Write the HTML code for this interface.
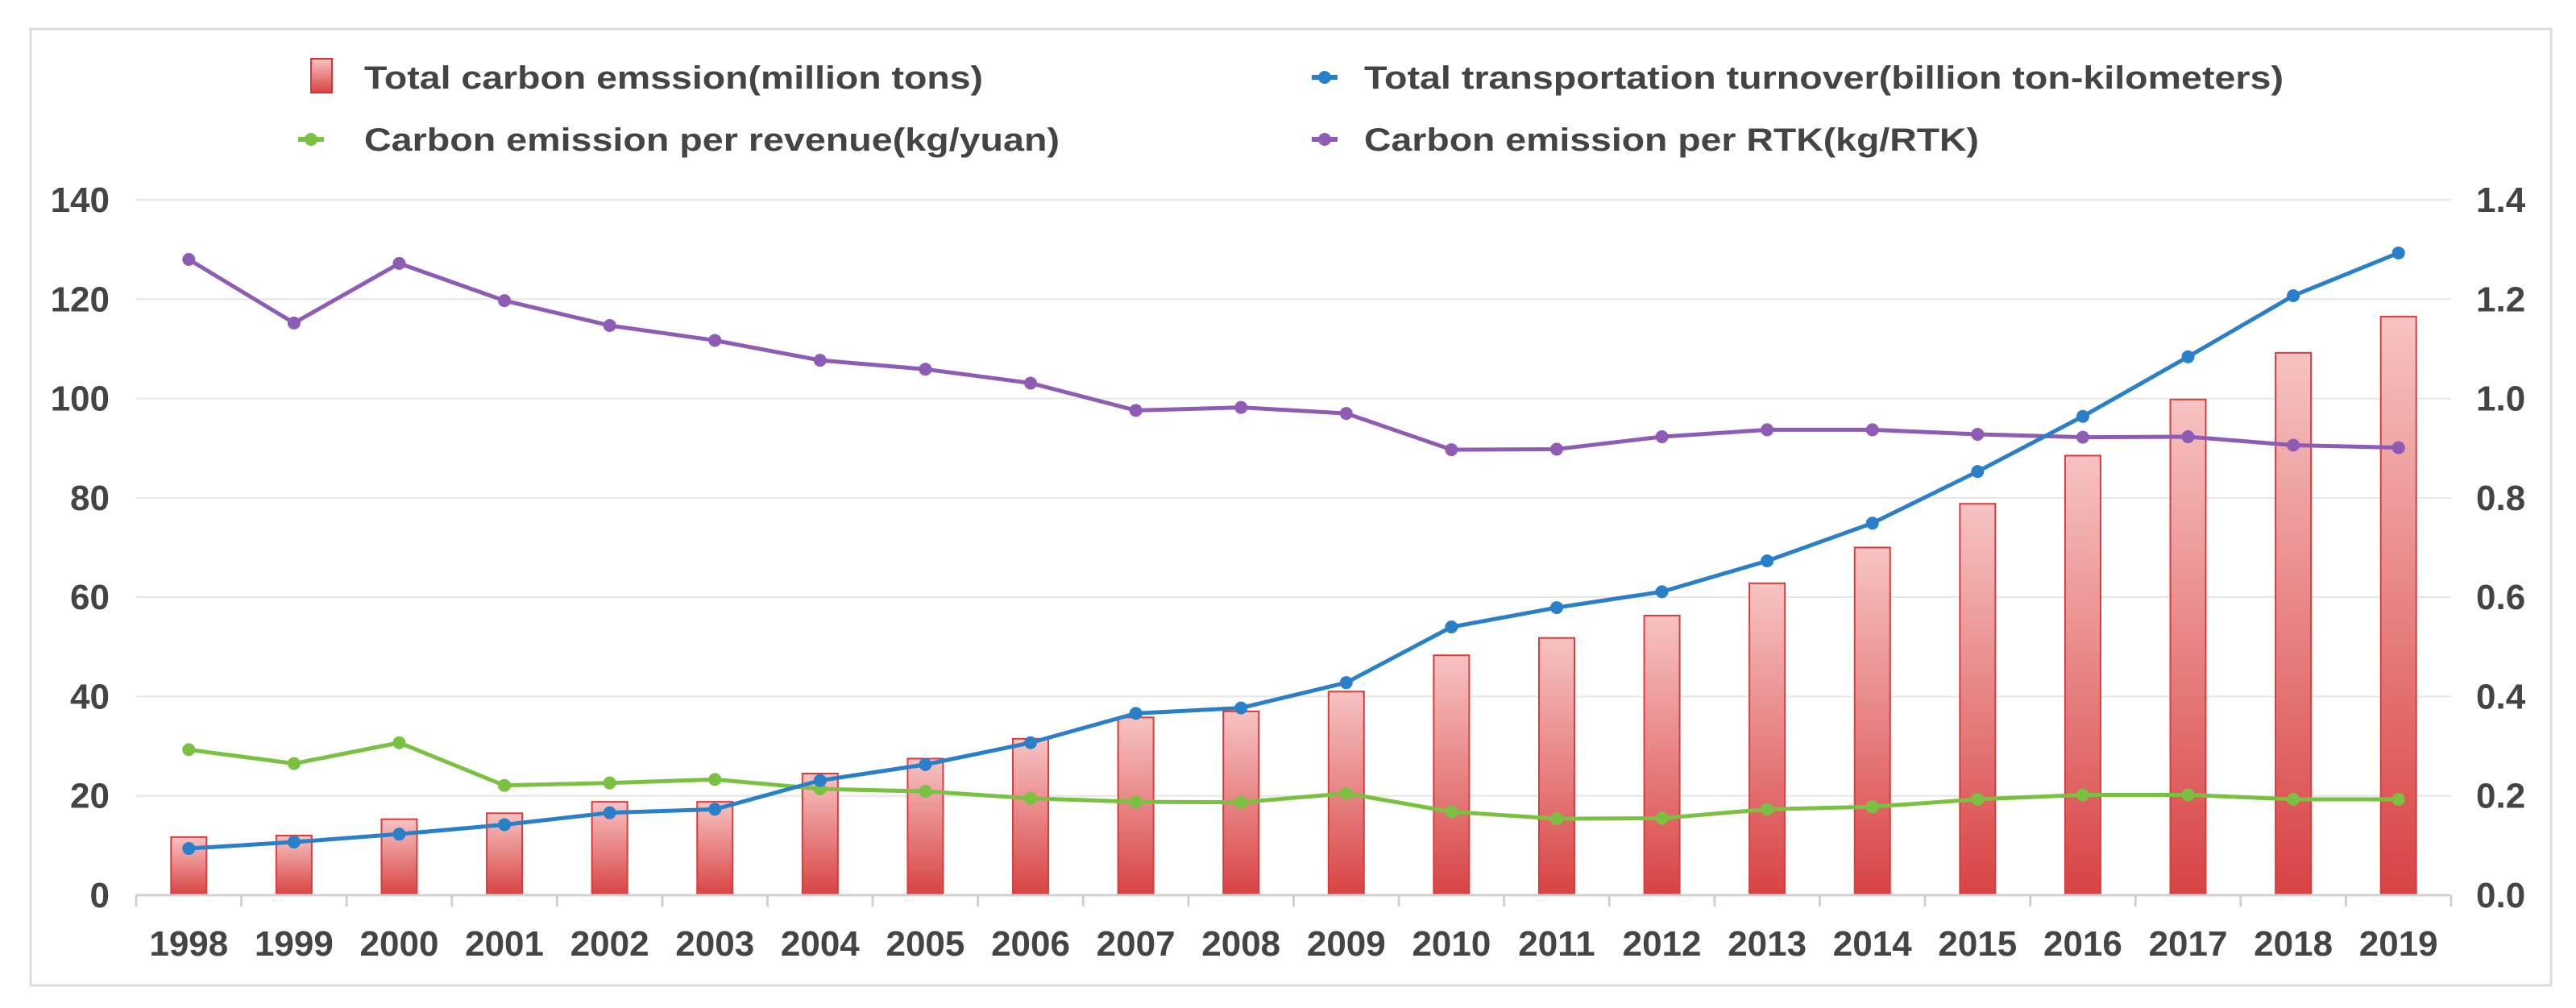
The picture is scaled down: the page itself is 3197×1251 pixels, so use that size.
<!DOCTYPE html>
<html><head><meta charset="utf-8"><style>
html,body{margin:0;padding:0;background:#fff;}
svg{display:block;font-family:"Liberation Sans",Arial,sans-serif;}
</style></head><body>
<svg id="chart" width="3197" height="1251" viewBox="0 0 3197 1251">
<defs>
<linearGradient id="barGrad" x1="0" y1="0" x2="0" y2="1">
<stop offset="0" stop-color="#f7c3c3"/><stop offset="1" stop-color="#d84343"/>
</linearGradient>
</defs>
<rect x="38" y="36" width="3128" height="1187" fill="#fff" stroke="#dcdcdc" stroke-width="3"/>
<g id="grid"></g>
<g id="bars"></g>
<g id="lines"></g>
<g id="axes"></g>
<g font-weight="bold" font-size="40" fill="#444">
<g>
<rect x="386" y="73" width="26" height="42" fill="url(#barGrad)" stroke="#d33" stroke-width="2"/>
<text x="452" y="110" textLength="768" lengthAdjust="spacingAndGlyphs">Total carbon emssion(million tons)</text></g>
<g>
<line x1="1628" y1="96" x2="1660" y2="96" stroke="#2a7fc9" stroke-width="6"/><circle cx="1644" cy="96" r="8" fill="#2a7fc9"/>
<text x="1693" y="110" textLength="1141" lengthAdjust="spacingAndGlyphs">Total transportation turnover(billion ton-kilometers)</text></g>
<g>
<line x1="370" y1="173" x2="402" y2="173" stroke="#7ac142" stroke-width="6"/><circle cx="386" cy="173" r="8" fill="#7ac142"/>
<text x="452" y="187" textLength="863" lengthAdjust="spacingAndGlyphs">Carbon emission per revenue(kg/yuan)</text></g>
<g>
<line x1="1628" y1="173" x2="1660" y2="173" stroke="#8e5bb5" stroke-width="6"/><circle cx="1644" cy="173" r="8" fill="#8e5bb5"/>
<text x="1693" y="187" textLength="763" lengthAdjust="spacingAndGlyphs">Carbon emission per RTK(kg/RTK)</text></g>
</g>
</svg>
<script>
const years = ["1998","1999","2000","2001","2002","2003","2004","2005","2006","2007","2008","2009","2010","2011","2012","2013","2014","2015","2016","2017","2018","2019"];
const carbonTotal = [11.7,12,15.3,16.5,18.8,18.8,24.5,27.5,31.5,35.8,37,41,48.3,51.8,56.3,62.8,70,78.8,88.5,99.8,109.2,116.5];
const turnover = [9.4,10.7,12.3,14.2,16.6,17.3,23.1,26.3,30.7,36.6,37.7,42.8,54,57.9,61.1,67.3,74.9,85.3,96.4,108.4,120.7,129.3];
const perRevenue = [0.293,0.265,0.307,0.221,0.226,0.233,0.214,0.209,0.195,0.188,0.187,0.205,0.168,0.154,0.155,0.173,0.178,0.193,0.202,0.202,0.193,0.193];
const perRTK = [1.28,1.152,1.272,1.197,1.147,1.117,1.077,1.059,1.031,0.976,0.982,0.970,0.897,0.898,0.923,0.937,0.937,0.928,0.922,0.923,0.906,0.901];
const leftTicks = [0,20,40,60,80,100,120,140];
const rightTicks = ["0.0","0.2","0.4","0.6","0.8","1.0","1.2","1.4"];

const NS = "http://www.w3.org/2000/svg";
const X0 = 169, X1 = 3042, Y0 = 1111, YT = 248;
const bw = (X1 - X0) / years.length;
function xc(i){ return X0 + bw * (i + 0.5); }
function yL(v){ return Y0 - (v / 140) * (Y0 - YT); }
function yR(v){ return Y0 - (v / 1.4) * (Y0 - YT); }
function mk(tag, attrs, parent){ const e = document.createElementNS(NS, tag); for (const k in attrs) e.setAttribute(k, attrs[k]); parent.appendChild(e); return e; }

const grid = document.getElementById('grid'), axes = document.getElementById('axes');
leftTicks.forEach((t, i) => {
  const y = yL(t);
  if (t > 0) {
    const g = mk('line', {x1: X0, x2: X1, y1: y, y2: y, stroke: '#e6e6e6', 'stroke-width': 2}, grid);
    
    
  }
  const lt = mk('text', {x: 136, y: y + 15, 'text-anchor': 'end', 'font-size': 44, 'font-weight': 'bold', fill: '#444'}, axes);
  lt.textContent = t;
  
  
  const rt = mk('text', {x: 3073, y: y + 15, 'font-size': 44, 'font-weight': 'bold', fill: '#444'}, axes);
  rt.textContent = rightTicks[i];
  
  
});
const ax = mk('line', {x1: X0, x2: X1, y1: Y0, y2: Y0, stroke: '#d0d0d0', 'stroke-width': 3}, axes);


for (let i = 0; i <= years.length; i++) {
  const x = X0 + bw * i;
  const tk = mk('line', {x1: x, x2: x, y1: Y0, y2: Y0 + 14, stroke: '#d0d0d0', 'stroke-width': 3}, axes);
  
  
}
years.forEach((yr, i) => {
  const t = mk('text', {x: xc(i), y: 1186, 'text-anchor': 'middle', 'font-size': 44, 'font-weight': 'bold', fill: '#444'}, axes);
  t.textContent = yr;
  
  
});

const bars = document.getElementById('bars');
carbonTotal.forEach((v, i) => {
  const y = yL(v);
  const b = mk('rect', {x: xc(i) - 22, y: y, width: 44, height: Y0 - y, fill: 'url(#barGrad)', stroke: '#dd3b3b', 'stroke-width': 2}, bars);
  
  
});

const lines = document.getElementById('lines');
function series(vals, yf, color, name){
  const pts = vals.map((v, i) => xc(i) + ',' + yf(v)).join(' ');
  const pl = mk('polyline', {points: pts, fill: 'none', stroke: color, 'stroke-width': 5, 'stroke-linejoin': 'round'}, lines);
  
  
  vals.forEach((v, i) => {
    const c = mk('circle', {cx: xc(i), cy: yf(v), r: 8, fill: color}, lines);
    
    
  });
}
series(perRTK, yR, '#8e5bb5', 'rtk');
series(perRevenue, yR, '#7ac142', 'revenue');
series(turnover, yL, '#2a7fc9', 'turnover');
</script>
</body></html>
